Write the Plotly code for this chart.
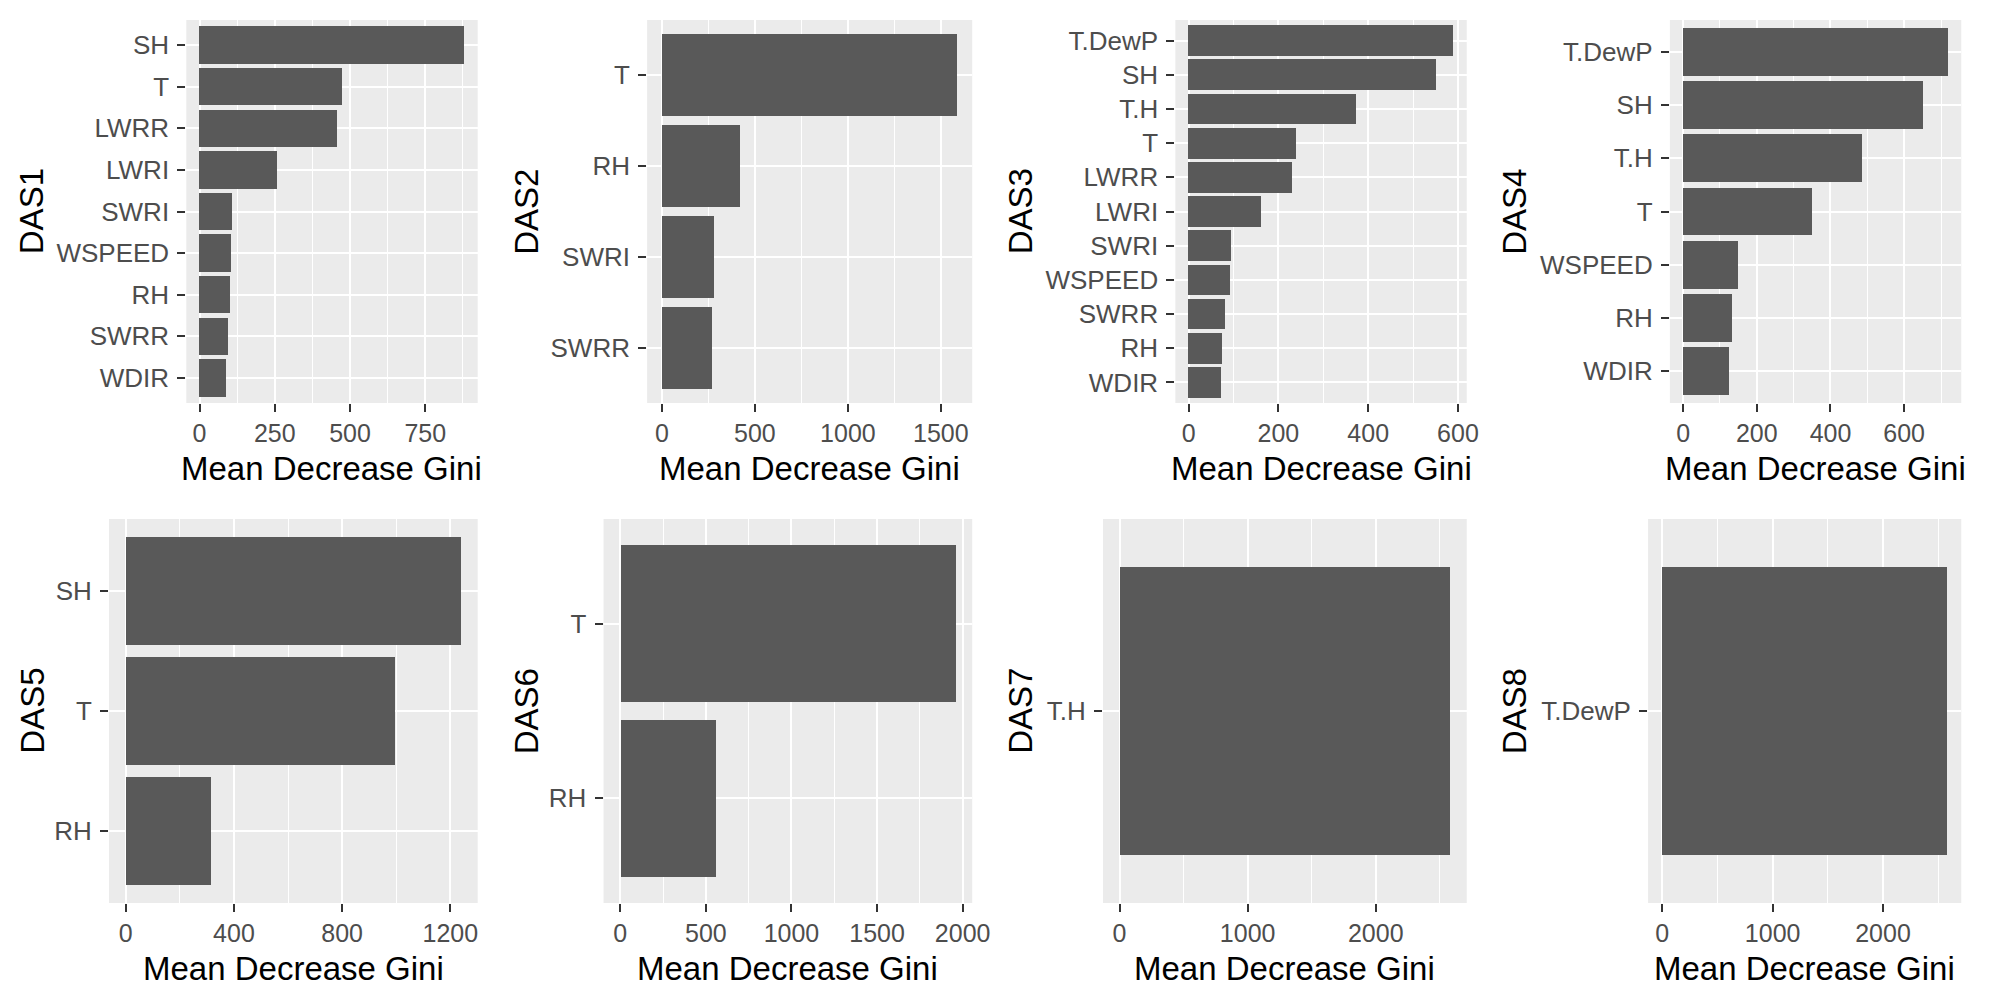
import plotly.graph_objects as go

# ---- data ----
das1_vars = ["SH", "T", "LWRR", "LWRI", "SWRI", "WSPEED", "RH", "SWRR", "WDIR"]
das1_vals = [880, 475, 456, 259, 110, 106, 102, 95, 88]

das2_vars = ["T", "RH", "SWRI", "SWRR"]
das2_vals = [1589, 423, 281, 271]

das3_vars = ["T.DewP", "SH", "T.H", "T", "LWRR", "LWRI", "SWRI", "WSPEED", "SWRR", "RH", "WDIR"]
das3_vals = [590, 551, 373, 240, 231, 162, 96, 93, 82, 76, 74]

das4_vars = ["T.DewP", "SH", "T.H", "T", "WSPEED", "RH", "WDIR"]
das4_vals = [719, 650, 486, 349, 149, 131, 125]

das5_vars = ["SH", "T", "RH"]
das5_vals = [1239, 996, 316]

das6_vars = ["T", "RH"]
das6_vals = [1958, 556]

das7_vars = ["T.H"]
das7_vals = [2581]

das8_vars = ["T.DewP"]
das8_vals = [2580]

panel_names = ["DAS1", "DAS2", "DAS3", "DAS4", "DAS5", "DAS6", "DAS7", "DAS8"]
panel_vars = [das1_vars, das2_vars, das3_vars, das4_vars, das5_vars, das6_vars, das7_vars, das8_vars]
panel_vals = [das1_vals, das2_vals, das3_vals, das4_vals, das5_vals, das6_vals, das7_vals, das8_vals]
major_dticks = [250, 500, 200, 200, 400, 500, 1000, 1000]
x_title = "Mean Decrease Gini"

# ---- layout geometry (pixels) ----
W, H = 2008, 1000
panel_px = [
    (188, 482, 20, 403),
    (653, 981, 20, 403),
    (1186, 1480, 20, 403),
    (1685, 1979, 20, 403),
    (110, 482, 519, 903),
    (609, 981, 519, 903),
    (1113, 1480, 519, 903),
    (1663, 1979, 519, 903),
]
ytitle_x = [32, 531, 1030, 1528, 32, 531, 1029, 1528]

FONT = "Liberation Sans, Arial, Helvetica, sans-serif"
BAR = "#595959"
BG = "#EBEBEB"
TICKTXT = "#4D4D4D"
TICKCOL = "#333333"

fig = go.Figure()
annotations = []
layout_axes = {}

for i in range(8):
    n = i + 1
    xs = "" if n == 1 else str(n)
    cats = panel_vars[i]
    vals = panel_vals[i]
    fig.add_trace(go.Bar(
        x=vals, y=cats, orientation="h", width=0.9,
        marker=dict(color=BAR, line=dict(width=0)),
        xaxis="x" + xs, yaxis="y" + xs, showlegend=False,
        hoverinfo="x+y",
    ))
    x0, x1, y0, y1 = panel_px[i]
    xdom = [x0 / W, x1 / W]
    ydom = [1 - y1 / H, 1 - y0 / H]
    vmax = max(vals)
    dt = major_dticks[i]
    layout_axes["xaxis" + xs] = dict(
        domain=xdom, anchor="y" + xs, range=[-0.05 * vmax, 1.05 * vmax],
        tick0=0, dtick=dt, showgrid=True, gridcolor="white", gridwidth=2.2,
        zeroline=False, showline=False,
        ticks="outside", ticklen=8, tickwidth=1.6, tickcolor=TICKCOL,
        tickfont=dict(family=FONT, size=25, color=TICKTXT),
        minor=dict(tick0=0, dtick=dt / 2, showgrid=True, gridcolor="white", gridwidth=1.1, ticks=""),
        fixedrange=True,
    )
    layout_axes["yaxis" + xs] = dict(
        domain=ydom, anchor="x" + xs, type="category",
        categoryorder="array", categoryarray=cats,
        range=[len(cats) - 0.4, -0.6],
        showgrid=True, gridcolor="white", gridwidth=2.2,
        zeroline=False, showline=False,
        ticks="outside", ticklen=8, tickwidth=1.6, tickcolor=TICKCOL,
        tickfont=dict(family=FONT, size=26, color=TICKTXT),
        ticklabelstandoff=3,
        fixedrange=True,
    )
    # x-axis title
    annotations.append(dict(
        text=x_title, xref="paper", yref="paper",
        x=(x0 + x1) / 2 / W, y=1 - (y1 + 65) / H,
        xanchor="center", yanchor="middle", showarrow=False,
        font=dict(family=FONT, size=33, color="black"),
    ))
    # y-axis title
    annotations.append(dict(
        text=panel_names[i], xref="paper", yref="paper",
        x=ytitle_x[i] / W, y=1 - (y0 + y1) / 2 / H,
        xanchor="center", yanchor="middle", showarrow=False, textangle=-90,
        font=dict(family=FONT, size=33, color="black"),
    ))

fig.update_layout(
    width=W, height=H,
    margin=dict(l=0, r=0, t=0, b=0),
    paper_bgcolor="white", plot_bgcolor=BG,
    bargap=0, annotations=annotations,
    font=dict(family=FONT),
    **layout_axes,
)

fig.write_html(
    "out.html",
    config={"displayModeBar": False},
    post_script="document.body.style.margin='0';",
)
